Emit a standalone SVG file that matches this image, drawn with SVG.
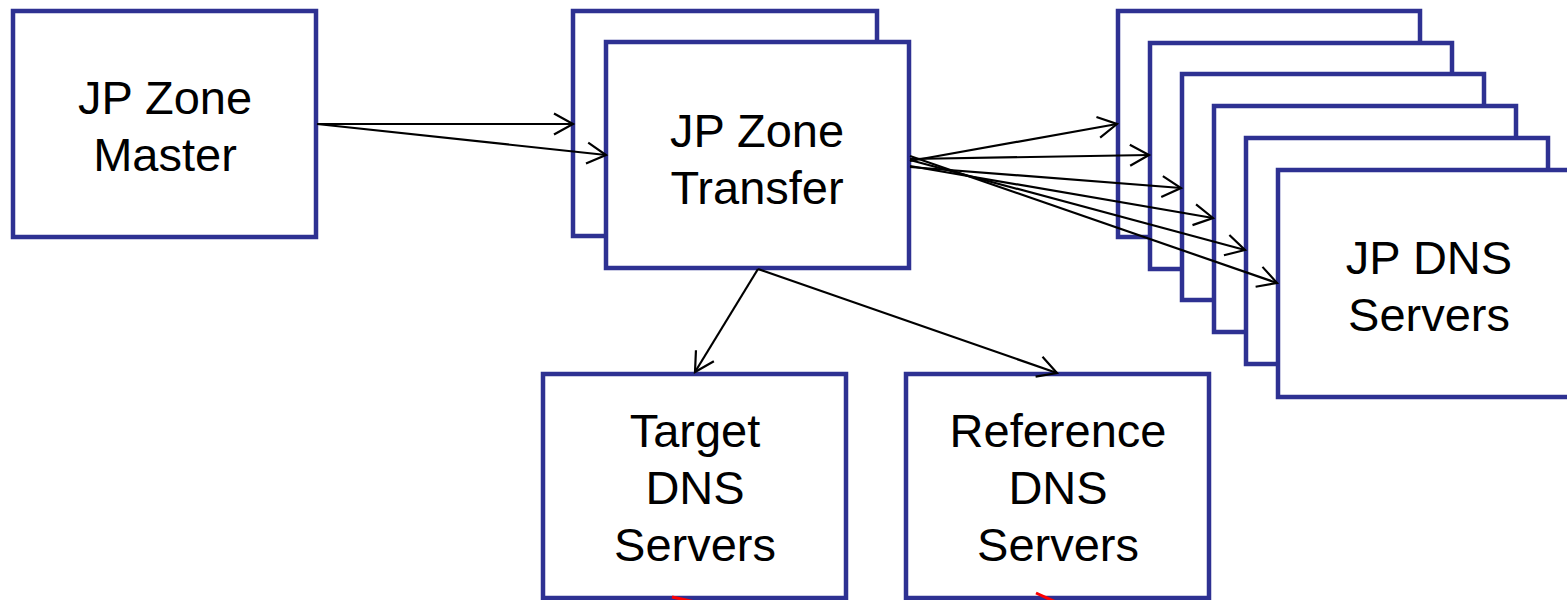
<svg xmlns="http://www.w3.org/2000/svg" width="1567" height="600" viewBox="0 0 1567 600">
<defs>
<style>
.box{fill:#fff;stroke:#2e3192;stroke-width:4.5}
.lbl{font-family:"Liberation Sans",Arial,sans-serif;font-size:47px;fill:#000;text-anchor:middle}
.con{stroke:#000;stroke-width:2.2;fill:none;marker-end:url(#arr)}
.red{stroke:#ff0000;stroke-width:3;fill:none}
</style>
<marker id="arr" markerUnits="userSpaceOnUse" markerWidth="24" markerHeight="24" refX="20" refY="10.5" orient="auto" overflow="visible">
<path d="M1,0 L20,10.5 L1,21" fill="none" stroke="#000" stroke-width="2.2"/>
</marker>
</defs>
<rect width="1567" height="600" fill="#fff"/>
<g id="zone-master">
<rect class="box" x="13" y="11" width="303" height="226"/>
<text class="lbl" x="165" y="114">JP Zone</text>
<text class="lbl" x="165" y="171">Master</text>
</g>
<g id="zone-transfer">
<rect class="box" x="573" y="11" width="304" height="225"/>
<rect class="box" x="606" y="42" width="303" height="226"/>
<text class="lbl" x="757" y="147">JP Zone</text>
<text class="lbl" x="757" y="204">Transfer</text>
</g>
<g id="jp-dns-servers">
<rect class="box" x="1118" y="11" width="302" height="226"/>
<rect class="box" x="1150" y="43" width="302" height="226"/>
<rect class="box" x="1182" y="74" width="302" height="226"/>
<rect class="box" x="1214" y="106" width="302" height="226"/>
<rect class="box" x="1246" y="138" width="302" height="226"/>
<rect class="box" x="1278" y="170" width="310" height="227"/>
<text class="lbl" x="1429" y="274">JP DNS</text>
<text class="lbl" x="1429" y="331">Servers</text>
</g>
<g id="target-dns">
<rect class="box" x="543" y="374" width="303" height="224"/>
<text class="lbl" x="695" y="447">Target</text>
<text class="lbl" x="695" y="504">DNS</text>
<text class="lbl" x="695" y="561">Servers</text>
</g>
<g id="reference-dns">
<rect class="box" x="906" y="374" width="303" height="224"/>
<text class="lbl" x="1058" y="447">Reference</text>
<text class="lbl" x="1058" y="504">DNS</text>
<text class="lbl" x="1058" y="561">Servers</text>
</g>
<g id="connectors">
<line class="con" x1="317" y1="124" x2="573" y2="124"/>
<line class="con" x1="317" y1="124" x2="606" y2="155"/>
<line class="con" x1="910" y1="161" x2="1117" y2="124"/>
<line class="con" x1="910" y1="159" x2="1149" y2="155"/>
<line class="con" x1="910" y1="167" x2="1181" y2="188"/>
<line class="con" x1="910" y1="166" x2="1213" y2="218"/>
<line class="con" x1="910" y1="160" x2="1245" y2="250"/>
<line class="con" x1="910" y1="156" x2="1277" y2="283"/>
<line class="con" x1="758" y1="269" x2="695" y2="372"/>
<line class="con" x1="758" y1="269" x2="1057" y2="373"/>
<line class="red" x1="672" y1="597" x2="700" y2="603"/>
<line class="red" x1="1036" y1="593" x2="1058" y2="603"/>
</g>
</svg>
